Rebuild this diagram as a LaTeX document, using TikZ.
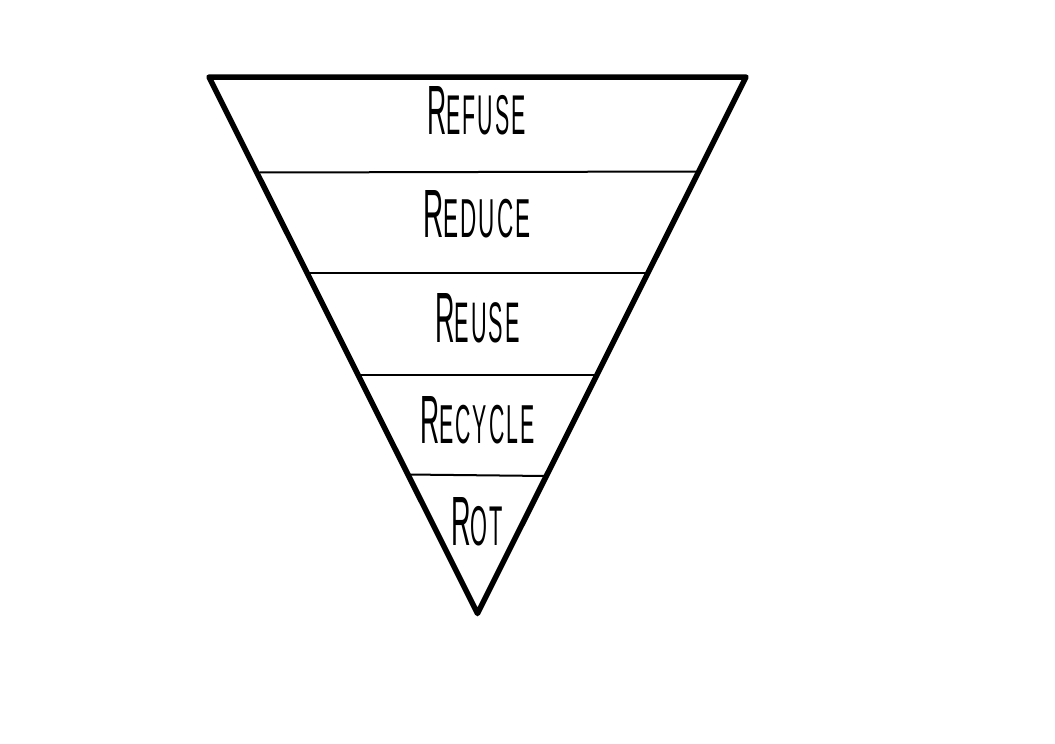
\documentclass[tikz,border=0pt]{standalone}
\usepackage{fontspec}
\usepackage{graphicx}
\setmainfont{Liberation Sans}
\newcommand{\lbl}[4]{\resizebox{#3pt}{#4pt}{\addfontfeature{LetterSpace=10}\fontsize{66}{66}\selectfont #1\fontsize{53}{53}\selectfont #2}}
\tikzset{
  outline/.style={draw=black,line width=5.5pt,line join=round,line cap=round},
  band/.style={draw=black,line width=2pt},
  word/.style={inner sep=0pt,text=black}
}
\begin{document}
\begin{tikzpicture}[x=1pt,y=-1pt]
\useasboundingbox (0,0) rectangle (1055,744);
\coordinate (tl) at (209,77);
\coordinate (tr) at (746,77);
\coordinate (bt) at (477.5,613.5);
\coordinate (a1) at (259,172.5);
\coordinate (a2) at (696,171.5);
\coordinate (b1) at (309,272.5);
\coordinate (b2) at (647,272.5);
\coordinate (c1) at (358,375);
\coordinate (c2) at (597,375);
\coordinate (d1) at (408,474.5);
\coordinate (d2) at (546,476);
\draw[band] (a1) -- (a2);
\draw[band] (b1) -- (b2);
\draw[band] (c1) -- (c2);
\draw[band] (d1) -- (d2);
\draw[outline] (tl) -- (tr) -- (bt) -- cycle;
\node[word] (w1) at (476.5,111) {\lbl{R}{EFUSE}{99}{48}};
\node[word] (w2) at (477,214) {\lbl{R}{EDUCE}{108}{47}};
\node[word] (w3) at (477.5,318) {\lbl{R}{EUSE}{85}{49}};
\node[word] (w4) at (477.5,420) {\lbl{R}{ECYCLE}{115}{47}};
\node[word] (w5) at (477,522) {\lbl{R}{OT}{52}{48}};
\end{tikzpicture}
\end{document}
